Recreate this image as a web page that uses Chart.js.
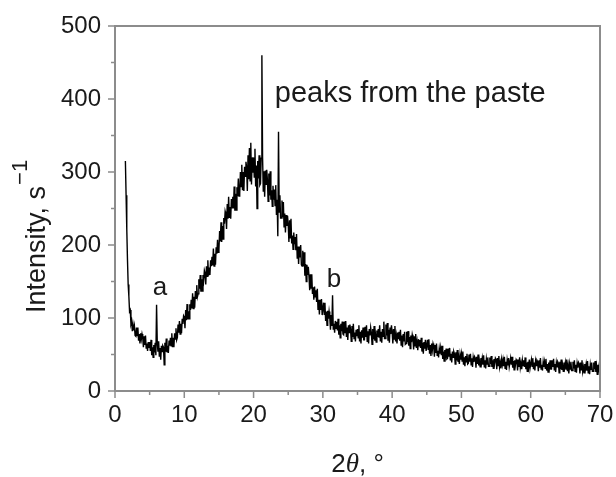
<!DOCTYPE html>
<html>
<head>
<meta charset="utf-8">
<script src="https://cdn.jsdelivr.net/npm/chart.js@4"></script>
<style>
  html, body { margin: 0; padding: 0; background: #fff; }
  #wrap { width: 616px; height: 477px; }
</style>
</head>
<body>
<div id="wrap"><canvas id="xrd" width="616" height="477"></canvas></div>
<script>
// ─── Data ────────────────────────────────────────────────
// Step scan: first angle and step of the 2θ grid (degrees)
const ANGLE_START = 1.5;
const ANGLE_STEP = 0.1;

// Intensity (s^-1), one row per degree
const intensity = [
  315, 268, 222, 180, 146,                              // 1.5
  130, 109, 111, 92, 96, 82, 91, 83, 89, 76,            // 2
  75, 87, 76, 87, 69, 78, 65, 79, 71, 78,               // 3
  73, 60, 75, 63, 76, 59, 65, 55, 67, 59,               // 4
  67, 55, 70, 49, 60, 46, 63, 53, 66, 49,               // 5
  118, 66, 54, 68, 47, 59, 43, 62, 54, 62,              // 6  (peak a)
  60, 36, 66, 54, 72, 53, 62, 52, 69, 62,               // 7
  73, 62, 79, 60, 73, 60, 79, 71, 86, 70,               // 8
  73, 91, 80, 96, 78, 92, 79, 99, 92, 103,              // 9
  101, 86, 111, 97, 119, 98, 109, 99, 119, 111,         // 10
  125, 113, 134, 113, 129, 114, 137, 127, 145, 129,     // 11
  133, 153, 140, 159, 136, 153, 137, 159, 152, 165,     // 12
  161, 146, 171, 157, 179, 158, 169, 159, 179, 171,     // 13
  184, 172, 195, 171, 188, 173, 197, 188, 207, 190,     // 14
  194, 219, 205, 231, 204, 226, 208, 237, 229, 246,     // 15
  242, 222, 256, 236, 266, 237, 252, 236, 263, 251,     // 16
  266, 250, 280, 247, 270, 248, 279, 267, 291, 267,     // 17
  270, 300, 280, 310, 275, 300, 274, 307, 294, 314,     // 18
  306, 274, 323, 290, 333, 288, 340, 283, 320, 299,     // 19
  320, 293, 332, 280, 309, 250, 315, 291, 323, 282,     // 20
  284, 319, 460, 320, 274, 301, 266, 302, 283, 303,     // 21 (paste)
  289, 260, 298, 268, 301, 262, 275, 253, 281, 262,     // 22
  276, 254, 282, 241, 262, 212, 355, 245, 268, 237,     // 23 (paste)
  237, 261, 238, 259, 225, 243, 217, 241, 226, 240,     // 24
  228, 204, 234, 210, 236, 202, 213, 194, 217, 201,     // 25
  211, 193, 215, 182, 198, 174, 198, 183, 200, 173,     // 26
  171, 192, 171, 190, 158, 174, 150, 173, 159, 170,     // 27
  157, 138, 160, 141, 160, 133, 142, 125, 143, 129,     // 28
  138, 122, 140, 112, 125, 105, 125, 111, 126, 104,     // 29
  104, 121, 105, 121, 96, 109, 90, 110, 99, 109,        // 30
  101, 84, 104, 89, 131, 85, 92, 80, 96, 86,            // 31 (peak b)
  95, 83, 99, 77, 90, 73, 92, 82, 95, 78,               // 32
  77, 95, 80, 96, 74, 87, 70, 90, 80, 91,               // 33
  84, 68, 89, 74, 92, 72, 80, 68, 84, 75,               // 34
  85, 73, 90, 68, 81, 65, 83, 73, 87, 70,               // 35
  70, 88, 74, 90, 68, 82, 65, 85, 76, 87,               // 36
  80, 64, 85, 71, 89, 69, 77, 67, 83, 74,               // 37
  85, 73, 90, 68, 81, 66, 85, 75, 95, 72,               // 38
  72, 91, 76, 93, 69, 84, 66, 87, 78, 90,               // 39
  81, 65, 85, 71, 89, 68, 76, 65, 80, 71,               // 40
  81, 69, 84, 63, 76, 60, 78, 68, 81, 64,               // 41
  65, 81, 67, 82, 62, 74, 58, 76, 67, 77,               // 42
  72, 57, 75, 62, 78, 59, 67, 56, 71, 62,               // 43
  70, 59, 73, 54, 66, 51, 67, 58, 70, 55,               // 44
  55, 70, 57, 71, 51, 63, 48, 65, 56, 65,               // 45
  61, 47, 63, 52, 65, 49, 55, 46, 58, 51,               // 46
  59, 49, 62, 44, 54, 41, 56, 48, 58, 44,               // 47
  45, 58, 47, 59, 42, 51, 39, 54, 46, 54,               // 48
  51, 37, 53, 42, 56, 40, 46, 37, 50, 43,               // 49
  51, 41, 54, 36, 46, 34, 48, 40, 51, 37,               // 50
  38, 50, 40, 51, 36, 45, 33, 46, 40, 47,               // 51
  45, 32, 47, 37, 50, 35, 41, 33, 45, 38,               // 52
  45, 36, 49, 33, 42, 31, 44, 37, 46, 34,               // 53
  34, 46, 37, 48, 33, 42, 31, 44, 38, 45,               // 54
  43, 30, 45, 35, 48, 33, 39, 31, 43, 36,               // 55
  43, 34, 47, 31, 40, 29, 42, 35, 45, 33,               // 56
  33, 45, 36, 47, 32, 41, 29, 42, 36, 43,               // 57
  41, 28, 43, 33, 46, 32, 38, 30, 42, 35,               // 58
  42, 33, 46, 30, 39, 27, 40, 33, 43, 31,               // 59
  31, 43, 34, 45, 30, 39, 28, 41, 35, 42,               // 60
  40, 27, 42, 32, 45, 30, 36, 28, 40, 33,               // 61
  40, 31, 44, 28, 37, 26, 39, 32, 42, 30,               // 62
  30, 42, 33, 44, 29, 37, 26, 39, 33, 40,               // 63
  38, 25, 40, 30, 43, 29, 35, 27, 39, 32,               // 64
  39, 30, 43, 27, 35, 24, 37, 30, 40, 28,               // 65
  28, 40, 31, 42, 27, 36, 25, 38, 32, 39,               // 66
  37, 24, 39, 29, 42, 27, 33, 25, 37, 30,               // 67
  37, 28, 41, 25, 34, 23, 36, 29, 39, 27,               // 68
  27, 39, 30, 41, 26, 34, 23, 36, 30, 37,               // 69
  31                                                    // 70
];

// Axis ticks
const xTicks = [0, 10, 20, 30, 40, 50, 60, 70];
const xMinorTicks = [5, 15, 25, 35, 45, 55, 65];
const yTicks = [0, 100, 200, 300, 400, 500];
const yMinorTicks = [50, 150, 250, 350, 450];

// Text labels placed at data coordinates [text, x, y]
const notes = [
  ["a", 6.5, 131],
  ["b", 31.6, 143],
  ["peaks from the paste", 42.6, 396]
];

// ─── Style ───────────────────────────────────────────────
const FRAME = "#8c8c8c";
const INK = "#1a1a1a";
const SANS = "'Liberation Sans', Arial, sans-serif";
const SERIF = "'Liberation Serif', 'Times New Roman', serif";

const points = intensity.map((v, i) => ({
  x: +(ANGLE_START + i * ANGLE_STEP).toFixed(1),
  y: v
}));

// ─── Frame, ticks and labels ─────────────────────────────
const decorations = {
  id: "decorations",
  afterDatasetsDraw(chart) {
    const { ctx, chartArea: a, scales } = chart;
    ctx.save();
    ctx.strokeStyle = FRAME;
    ctx.lineWidth = 2;
    ctx.strokeRect(a.left, a.top, a.right - a.left, a.bottom - a.top);

    ctx.lineWidth = 1.5;
    ctx.beginPath();
    xTicks.forEach(v => {
      const px = scales.x.getPixelForValue(v);
      ctx.moveTo(px, a.bottom); ctx.lineTo(px, a.bottom + 7);
    });
    xMinorTicks.forEach(v => {
      const px = scales.x.getPixelForValue(v);
      ctx.moveTo(px, a.bottom); ctx.lineTo(px, a.bottom + 4);
    });
    yTicks.forEach(v => {
      const py = scales.y.getPixelForValue(v);
      ctx.moveTo(a.left, py); ctx.lineTo(a.left - 7, py);
    });
    yMinorTicks.forEach(v => {
      const py = scales.y.getPixelForValue(v);
      ctx.moveTo(a.left, py); ctx.lineTo(a.left - 4, py);
    });
    ctx.stroke();
    ctx.restore();
  },
  afterDraw(chart) {
    const { ctx, chartArea: a, scales } = chart;
    ctx.save();
    ctx.fillStyle = INK;
    ctx.textBaseline = "alphabetic";

    // annotations
    notes.forEach(([txt, x, y]) => {
      ctx.font = (txt.length > 1 ? "29px " : "26px ") + SANS;
      ctx.textAlign = "center";
      ctx.fillText(txt, scales.x.getPixelForValue(x), scales.y.getPixelForValue(y));
    });

    // x title: 2θ, °
    const parts = [["2", "26px " + SANS], ["θ", "italic 27px " + SERIF], [", °", "26px " + SANS]];
    let total = 0;
    parts.forEach(([t, f]) => { ctx.font = f; total += ctx.measureText(t).width; });
    let cx = (a.left + a.right) / 2 - total / 2;
    ctx.textAlign = "left";
    parts.forEach(([t, f]) => { ctx.font = f; ctx.fillText(t, cx, 472); cx += ctx.measureText(t).width; });

    // y title: Intensity, s^-1
    ctx.translate(45, 313);
    ctx.rotate(-Math.PI / 2);
    ctx.font = "27px " + SANS;
    const main = "Intensity, s";
    ctx.fillText(main, 0, 0);
    const w = ctx.measureText(main).width;
    ctx.font = "22px " + SANS;
    ctx.fillText("−1", w + 1, -18);
    ctx.restore();
  }
};

// ─── Chart ───────────────────────────────────────────────
new Chart(document.getElementById("xrd"), {
  type: "line",
  data: {
    datasets: [{
      data: points,
      borderColor: "#000",
      borderWidth: 1.4,
      pointRadius: 0,
      tension: 0,
      fill: false
    }]
  },
  options: {
    responsive: false,
    animation: false,
    layout: { padding: { top: 26, right: 16, left: 0, bottom: 0 } },
    plugins: { legend: { display: false }, tooltip: { enabled: false } },
    scales: {
      x: {
        type: "linear",
        min: 0, max: 70,
        afterBuildTicks: s => { s.ticks = xTicks.map(v => ({ value: v })); },
        afterFit: s => { s.height = 86; s.paddingLeft = 0; s.paddingRight = 0; },
        grid: { display: false, drawTicks: false },
        border: { display: false },
        ticks: { color: INK, font: { family: SANS, size: 24 }, padding: 10, maxRotation: 0 }
      },
      y: {
        min: 0, max: 500,
        afterBuildTicks: s => { s.ticks = yTicks.map(v => ({ value: v })); },
        afterFit: s => { s.width = 115; s.paddingTop = 0; s.paddingBottom = 0; },
        grid: { display: false, drawTicks: false },
        border: { display: false },
        ticks: { color: INK, font: { family: SANS, size: 24 }, padding: 14 }
      }
    }
  },
  plugins: [decorations]
});
</script>
</body>
</html>
